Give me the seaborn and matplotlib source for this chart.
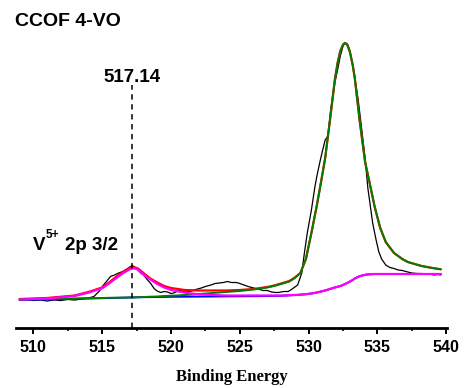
import numpy as np
import pandas as pd
import matplotlib
matplotlib.use("Agg")
import matplotlib.pyplot as plt
import seaborn as sns

# measured spectrum (binding energy, intensity a.u.)
exp_energy = [509.0, 509.5, 510.0, 510.5, 511.0, 511.5, 512.0, 512.5, 513.0, 513.5,
              514.0, 514.4, 514.8, 515.1, 515.4, 515.6, 515.9, 516.2, 516.5, 516.8,
              517.0, 517.2, 517.35, 517.6, 517.8, 518.0, 518.3, 518.5, 518.8, 519.0,
              519.25, 519.5, 519.75, 520.0, 520.2, 520.5, 520.7, 521.0, 521.4, 521.8,
              522.2, 522.5, 522.9, 523.2, 523.5, 523.8, 524.1, 524.4, 524.7, 524.9,
              525.2, 525.6, 526.0, 526.3, 526.7, 527.0, 527.3, 527.6, 527.8, 528.2,
              528.5, 528.7, 528.9, 529.2, 529.5, 529.7, 529.9, 530.2, 530.45, 530.6,
              530.8, 531.0, 531.2, 531.4, 531.6, 531.9, 532.1, 532.3, 532.5, 532.65,
              532.8, 532.95, 533.1, 533.3, 533.6, 533.8, 534.1, 534.3, 534.45, 534.65,
              534.9, 535.1, 535.3, 535.6, 535.9, 536.2, 536.5, 536.8, 537.2, 537.5,
              537.9, 538.2, 538.5, 538.8, 539.1, 539.4, 539.6]
exp_counts = [28, 28.5, 27.5, 28, 27, 28, 27.5, 28.5, 28, 29,
              30, 31.5, 37, 43, 48, 51.5, 53, 55, 56.5, 59,
              61, 62.5, 61, 58, 55, 53, 48, 45, 39, 37,
              35.5, 36.5, 36, 34.5, 35, 37, 37.5, 36, 36.5, 38.5,
              40, 41.5, 43, 44.5, 45, 45.5, 46.5, 45.5, 45.5, 45,
              43.5, 41.5, 40, 39, 37.5, 37.5, 36, 35.5, 35.5, 36.5,
              36.5, 38, 40, 43, 55, 76, 95, 118, 141, 152,
              165, 177, 188, 192, 218, 245, 258, 272, 282, 285,
              284, 279, 270, 255, 228, 205, 170, 140, 125, 105,
              88, 76, 69, 63, 60.5, 59.5, 58, 57.5, 56, 55,
              54.5, 54.5, 53.5, 54, 53, 53.5, 53]

# envelope of the fit
env_energy = [509.0, 511.0, 513.0, 514.0, 515.0, 515.5, 516.0, 516.5, 517.0, 517.3,
              517.6, 518.0, 518.5, 519.0, 519.5, 520.0, 521.0, 522.0, 523.0, 524.0,
              525.0, 526.0, 527.0, 527.5, 528.0, 528.6, 529.0, 529.4, 529.8, 530.2,
              530.6, 530.9, 531.2, 531.55, 531.9, 532.1, 532.3, 532.5, 532.64, 532.8,
              533.0, 533.2, 533.35, 533.7, 534.1, 534.4, 534.8, 535.2, 535.6, 536.2,
              536.8, 537.2, 538.2, 539.0, 539.6]
env_counts = [29, 30, 32.5, 36, 40.5, 45.5, 51, 56, 60, 61,
              59.5, 55, 49.5, 45.5, 42, 40, 38, 37.5, 37.5, 37.5,
              38, 39, 41, 42.5, 44.5, 47, 50.5, 55, 69, 95,
              123, 146, 170, 208, 248, 265, 277, 283.5, 285, 283.5,
              276, 263, 250, 208, 166, 147, 121, 100, 86, 75,
              69, 66, 62, 60, 58.7]

# O 1s component + background
o_counts = [28.5, 29, 29.5, 29.8, 30, 30.2, 30.3, 30.4, 30.5, 30.6,
            30.8, 31, 31.3, 31.5, 32, 32.3, 33, 34, 35, 36,
            37, 38.5, 40.5, 42, 44, 46.5, 50, 55, 69, 95,
            123, 146, 170, 208, 248, 265, 277, 283.5, 285, 283.5,
            276, 263, 250, 208, 166, 147, 121, 100, 86, 75,
            69, 66, 62, 60, 58.7]

# V 2p3/2 component + background
v_counts = [28.5, 29.5, 32, 35.3, 39.7, 44.5, 49.7, 54.7, 58.7, 59.7,
            58.5, 53.5, 48.5, 44, 40.5, 38, 35.3, 33.7, 33, 32.5,
            32.5, 32.5, 32.5, 32.5, 32.5, 32.8, 33, 33.3, 33.8, 34.5,
            35.5, 36.5, 37.5, 39, 40.5, 41.2, 42, 43, 44, 45,
            46.5, 48, 49.5, 51.8, 53.2, 53.7, 54, 54, 54, 54,
            54, 54, 54, 54, 54]

# Shirley background
bg_counts = [28, 28.6, 29.2, 29.5, 29.8, 30, 30.1, 30.3, 30.5, 30.6,
             30.7, 30.8, 30.9, 31, 31.1, 31.2, 31.3, 31.4, 31.5, 31.6,
             31.7, 31.8, 32, 32.1, 32.2, 32.6, 33, 33.3, 33.8, 34.5,
             35.5, 36.5, 37.5, 39, 40.5, 41.2, 42, 43, 44, 45,
             46.5, 48, 49.5, 51.8, 53.2, 53.7, 54, 54, 54, 54,
             54, 54, 54, 54, 54]

peak_pos = 517.14
x_ticks = [510, 515, 520, 525, 530, 535, 540]

exp_df = pd.DataFrame({"BE": exp_energy, "I": exp_counts})
fit_df = pd.DataFrame({"BE": env_energy, "env": env_counts, "O": o_counts,
                       "V": v_counts, "bg": bg_counts})

sns.set_style("ticks")
plt.rcParams["font.family"] = ["Liberation Sans", "DejaVu Sans"]
plt.rcParams["font.weight"] = "bold"
plt.rcParams["text.color"] = "black"
plt.rcParams["axes.labelcolor"] = "black"
plt.rcParams["axes.edgecolor"] = "black"
plt.rcParams["xtick.color"] = "black"

fig = plt.figure(figsize=(4.65, 3.88), dpi=100)
ax = fig.add_axes([16 / 465, 60 / 388, 431 / 465, 318 / 388])

sns.lineplot(data=exp_df, x="BE", y="I", color="black", lw=0.9, ax=ax,
             estimator=None, sort=False)
sns.lineplot(data=fit_df, x="BE", y="env", color="#ff0000", lw=1.6, ax=ax, estimator=None)
sns.lineplot(data=fit_df, x="BE", y="bg", color="#0000ff", lw=1.4, ax=ax, estimator=None)
sns.lineplot(data=fit_df, x="BE", y="O", color="#008000", lw=1.4, ax=ax, estimator=None)
sns.lineplot(data=fit_df, x="BE", y="V", color="#ff00ff", lw=1.6, ax=ax, estimator=None)

ax.axvline(peak_pos, ymin=0, ymax=0.764, color="black", lw=1.1, dashes=(3.5, 3))

ax.set_xlim(508.74, 540.05)
ax.set_ylim(0, 318)
ax.set_xticks(x_ticks)
ax.set_xticks(np.arange(512.5, 540, 5), minor=True)
ax.set_yticks([])
ax.set_ylabel("")
sns.despine(ax=ax, left=True, top=True, right=True)
ax.spines["bottom"].set_linewidth(2)
ax.tick_params(axis="x", which="major", length=4, width=1.4, pad=5, labelsize=11.5)
ax.tick_params(axis="x", which="minor", length=2.5, width=1.2)
for lab in ax.get_xticklabels():
    lab.set_fontweight("bold")
ax.set_xlabel("Binding Energy", family=["Liberation Serif"], fontweight="bold",
              fontsize=12, labelpad=10)

ax.text(peak_pos, 251, "517.14", ha="center", va="center", fontsize=13.5, fontweight="bold")

# V^5+ 2p 3/2 label built from pieces so the superscript stays tight
vt = ax.text(509.95, 83, "V", ha="left", va="center", fontsize=13.5, fontweight="bold")
sup = ax.annotate("5+", xy=(1.0, 0.72), xycoords=vt, xytext=(0.5, 0),
                  textcoords="offset points", ha="left", va="bottom",
                  fontsize=8.5, fontweight="bold")
ax.annotate("2p 3/2", xy=(1.0, 0.0), xycoords=vt, xytext=(14, 0),
            textcoords="offset points", ha="left", va="bottom",
            fontsize=13.5, fontweight="bold")

fig.text(15 / 465, 1 - 22 / 388, "CCOF 4-VO", ha="left", va="center", fontsize=14,
         fontweight="bold")

fig.savefig("out.png", dpi=100)
